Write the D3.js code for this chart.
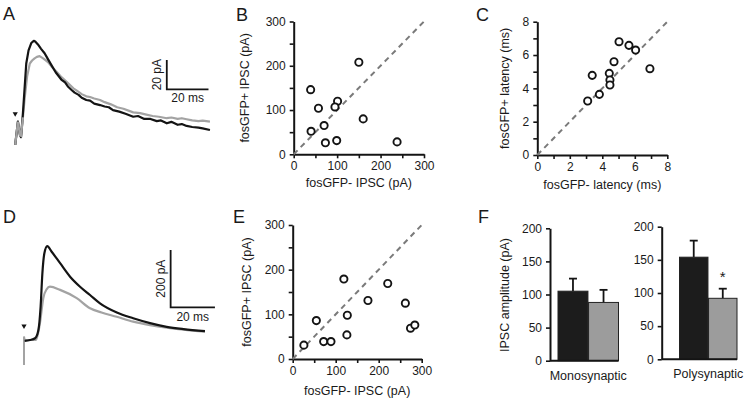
<!DOCTYPE html>
<html><head><meta charset="utf-8">
<script src="https://cdn.jsdelivr.net/npm/d3@7"></script>
<style>
html,body{margin:0;padding:0;background:#fff;}
svg{display:block;font-family:"Liberation Sans",Arial,sans-serif;}
</style></head>
<body><svg id="c" width="755" height="402"></svg>
<script>
// ---------- DATA ----------
// Panel A traces: [time ms, current pA]
const aBlack = [[0.1,-6.8],[1.4,9.1],[2.4,0],[2.9,-1.5],[3.8,15],[4.6,32],[5.4,49],[6.5,58],[7.8,63],[9.0,64.5],[9.7,64],[11,62],[12.5,59],[14.2,56],[15.8,52],[17.4,48],[19.5,43],[22.2,38],[24,36],[25.5,33],[27,31],[28.6,29],[30.5,27.5],[32,25.5],[34.2,24],[36,23.5],[38,21.5],[40.8,20.5],[43,19.5],[45,19],[47,17],[50,16],[53,14.5],[56.7,12.5],[59,13],[62,11],[65,11],[68,9.5],[70,10],[72.8,8],[75,9],[78,7],[80,7.5],[82.3,6.2],[85,5.5],[88,5],[90,4.5],[93.5,3.4]];
const aGray = [[0.1,-6.8],[1.4,9.1],[2.4,0],[2.9,-0.5],[3.8,12],[4.7,26],[5.8,40],[7.1,49],[8.2,51],[9.4,52.5],[10.5,53.5],[11.8,54],[13.5,52.5],[15.8,50],[17.5,47],[19.8,43.5],[22,40],[25.4,35.5],[28,32],[30,30],[32,28],[34.2,26.5],[36,26],[38,25],[40.8,24],[43,22.5],[46,21],[49,19],[52,18],[56.7,15.5],[60,15],[63,14],[66,13],[69,12.5],[72.8,11.5],[75,12],[78,11],[80,11.5],[82.3,10.8],[85,10],[88,9.5],[90,9.8],[93.5,9.1]];
// Panel D traces: [time ms, current pA]
const dBlack = [[0.3,-3],[2.7,0],[5.0,6],[6.5,35],[7.5,116],[8.3,233],[9.2,303],[10.5,328],[12.5,308],[16.3,268],[20.8,221],[25.3,186],[29.8,157],[34.3,128],[41.9,96],[49.3,76],[56.9,59],[64.4,46],[72,38],[81.7,31]];
const dGray = [[0.3,0],[1.2,0],[5.4,0],[7.2,59],[8.7,146],[10.2,177],[11.7,186],[16.3,175],[23.8,146],[29.8,111],[35,96],[41.9,81],[49.3,64],[56.9,52],[64.4,43],[72,36],[81.7,29]];
const dArtifact = [[0,-87],[0,12],[0.3,0]];
// Panel B: IPSC amplitudes (pA)
const bNeg = [150,39,57,101,95,160,70,40,73,99,238];
const bPos = [208,146,104,120,107,80,65,52,26,31,28];
// Panel C: latencies (ms)
const cNeg = [5.03,5.64,6.05,4.72,6.93,3.38,4.43,4.47,4.47,3.82,3.1];
const cPos = [6.8,6.58,6.3,5.6,5.18,4.78,4.9,4.5,4.2,3.64,3.24];
// Panel E: IPSC amplitudes (pA)
const eNeg = [119,221,175,262,127,55,126,274,284,72,89,26];
const ePos = [179,169,131,125,98,86,54,69,76,39,39,31];
// Panel F: mean IPSC amplitude (pA) and SEM
const fCategories = ["Monosynaptic","Polysynaptic"];
const fNegMean = [105,154];
const fNegSem = [19,25];
const fPosMean = [88,92];
const fPosSem = [19,14.5];
const ampTicks = [0,100,200,300];
const latTicks = [0,2,4,6,8];
const fTicks = [0,50,100,150,200];

// ---------- DRAW ----------
const svg = d3.select("#c");
svg.append("rect").attr("width",755).attr("height",402).attr("fill","#fff");
const BLACK = "#141414", GRAY = "#a3a3a3", TXT = "#1a1a1a";

function panelLetter(t,x,y){
  svg.append("text").attr("x",x).attr("y",y).attr("font-size",18).attr("fill",TXT).text(t);
}
panelLetter("A",3,19.5); panelLetter("B",236,20.5); panelLetter("C",476,20.5);
panelLetter("D",3,223); panelLetter("E",233,223); panelLetter("F",478,223);

function styleAxis(g){
  g.select(".domain").attr("stroke",BLACK).attr("stroke-width",2);
  g.selectAll(".tick line").attr("stroke",BLACK).attr("stroke-width",1.6);
  g.selectAll(".tick text").attr("font-size",12).attr("fill",TXT).attr("font-family","Liberation Sans, Arial, sans-serif");
}

function scatter(opts){
  const {xd, yd, xr, yr, allTicks, labTicks, xs, ys, xTitle, yTitle, fmt, xTitleY, yTitleX} = opts;
  const x = d3.scaleLinear().domain(xd).range(xr);
  const y = d3.scaleLinear().domain(yd).range(yr);
  const lab = new Set(labTicks);
  const gx = svg.append("g").attr("transform",`translate(0,${yr[0]})`)
    .call(d3.axisBottom(x).tickValues(allTicks).tickSize(4).tickSizeOuter(0).tickPadding(3)
      .tickFormat(d=>lab.has(d)?fmt(d):""));
  styleAxis(gx);
  const gy = svg.append("g").attr("transform",`translate(${xr[0]},0)`)
    .call(d3.axisLeft(y).tickValues(allTicks).tickSize(4).tickSizeOuter(0).tickPadding(4)
      .tickFormat(d=>lab.has(d)?fmt(d):""));
  styleAxis(gy);
  // identity line
  svg.append("line").attr("x1",x(xd[0])).attr("y1",y(yd[0])).attr("x2",x(xd[1])).attr("y2",y(yd[1]))
    .attr("stroke","#7a7a7a").attr("stroke-width",2).attr("stroke-dasharray","5.5,4.5");
  svg.append("g").selectAll("circle").data(xs.map((v,i)=>[v,ys[i]])).join("circle")
    .attr("cx",d=>x(d[0])).attr("cy",d=>y(d[1])).attr("r",3.6)
    .attr("fill","#fff").attr("stroke",BLACK).attr("stroke-width",1.9);
  svg.append("text").attr("x",(xr[0]+xr[1])/2).attr("y",xTitleY).attr("text-anchor","middle")
    .attr("font-size",12.5).attr("fill",TXT).text(xTitle);
  svg.append("text").attr("transform",`translate(${yTitleX},${(yr[0]+yr[1])/2}) rotate(-90)`)
    .attr("text-anchor","middle").attr("font-size",12.5).attr("fill",TXT).text(yTitle);
}

scatter({xd:[0,300], yd:[0,300], xr:[293.7,424], yr:[154.3,21.5], allTicks:d3.range(0,301,50), labTicks:ampTicks,
  xs:bNeg, ys:bPos, xTitle:"fosGFP- IPSC (pA)", yTitle:"fosGFP+ IPSC (pA)", fmt:d=>d, xTitleY:186.5, yTitleX:249});
scatter({xd:[0,8], yd:[0,8], xr:[537.3,667.3], yr:[155,21.7], allTicks:d3.range(0,9,1), labTicks:latTicks,
  xs:cNeg, ys:cPos, xTitle:"fosGFP- latency (ms)", yTitle:"fosGFP+ latency (ms)", fmt:d=>d, xTitleY:189, yTitleX:509});
scatter({xd:[0,300], yd:[0,300], xr:[292.7,421.7], yr:[359,225], allTicks:d3.range(0,301,50), labTicks:ampTicks,
  xs:eNeg, ys:ePos, xTitle:"fosGFP- IPSC (pA)", yTitle:"fosGFP+ IPSC (pA)", fmt:d=>d, xTitleY:394.5, yTitleX:251});

// ---------- Traces ----------
function traces(opts){
  const {x, y, black, gray, artifact, arrow, barT, barI, barLenT, barLenI, tLab, iLab, iLabX, tLabY, curve} = opts;
  const line = d3.line().x(d=>x(d[0])).y(d=>y(d[1])).curve(curve);
  svg.append("path").attr("d",line(gray)).attr("fill","none").attr("stroke",GRAY).attr("stroke-width",2.2).attr("stroke-linejoin","round");
  if(artifact) svg.append("path").attr("d",d3.line().x(d=>x(d[0])).y(d=>y(d[1]))(artifact))
    .attr("fill","none").attr("stroke",GRAY).attr("stroke-width",2);
  svg.append("path").attr("d",line(black)).attr("fill","none").attr("stroke",BLACK).attr("stroke-width",2.2).attr("stroke-linejoin","round");
  if(opts.grayOnTopStart){
    svg.append("path").attr("d",line(gray.slice(0,opts.grayOnTopStart))).attr("fill","none").attr("stroke",GRAY).attr("stroke-width",2.2);
  }
  // stimulus arrow
  const ax = x(arrow[0]), ay = y(arrow[1]);
  svg.append("path").attr("d",`M${ax-2.6},${ay-4.5}L${ax+2.6},${ay-4.5}L${ax},${ay}Z`).attr("fill",BLACK);
  // scale bars
  const bx = x(barT), by = y(barI);
  svg.append("path").attr("d",`M${bx},${y(barI+barLenI)}L${bx},${by}L${x(barT+barLenT)},${by}`)
    .attr("fill","none").attr("stroke",BLACK).attr("stroke-width",1.8);
  svg.append("text").attr("transform",`translate(${iLabX},${(y(barI+barLenI)+by)/2}) rotate(-90)`)
    .attr("text-anchor","middle").attr("font-size",12).attr("fill",TXT).text(iLab);
  svg.append("text").attr("x",(bx+x(barT+barLenT))/2).attr("y",tLabY).attr("text-anchor","middle")
    .attr("font-size",12).attr("fill",TXT).text(tLab);
}

const xA = d3.scaleLinear().domain([0,100]).range([15,223.5]);
const yA = d3.scaleLinear().domain([0,20]).range([135,105.8]);
traces({x:xA, y:yA, black:aBlack, gray:aGray, arrow:[0.1,12.5], barT:72.8, barI:31.3, barLenT:20, barLenI:20,
  tLab:"20 ms", iLab:"20 pA", iLabX:161, tLabY:101.5, curve:d3.curveLinear, grayOnTopStart:5});

const xD = d3.scaleLinear().domain([0,100]).range([24,245.5]);
const yD = d3.scaleLinear().domain([0,200]).range([340,282.7]);
traces({x:xD, y:yD, black:dBlack, gray:dGray, artifact:dArtifact, arrow:[0,38], barT:66.2, barI:114, barLenT:20, barLenI:200,
  tLab:"20 ms", iLab:"200 pA", iLabX:165, tLabY:320.5, curve:d3.curveMonotoneX});

// ---------- Panel F ----------
function barPlot(i, axisX, yr, band, xEnd){
  const y = d3.scaleLinear().domain([0,200]).range(yr);
  const b = d3.scaleBand().domain(["neg","pos"]).range(band).paddingInner(0.02);
  const vals = [{k:"neg",m:fNegMean[i],s:fNegSem[i],c:"#1c1c1c"},{k:"pos",m:fPosMean[i],s:fPosSem[i],c:"#9c9c9c"}];
  // error bars (up only)
  vals.forEach(v=>{
    const cx = b(v.k)+b.bandwidth()/2;
    svg.append("line").attr("x1",cx).attr("x2",cx).attr("y1",y(v.m)).attr("y2",y(v.m+v.s)).attr("stroke",BLACK).attr("stroke-width",1.8);
    svg.append("line").attr("x1",cx-4).attr("x2",cx+4).attr("y1",y(v.m+v.s)).attr("y2",y(v.m+v.s)).attr("stroke",BLACK).attr("stroke-width",1.8);
  });
  svg.append("g").selectAll("rect").data(vals).join("rect")
    .attr("x",d=>b(d.k)).attr("width",b.bandwidth()).attr("y",d=>y(d.m)).attr("height",d=>y(0)-y(d.m))
    .attr("fill",d=>d.c).attr("stroke","#222").attr("stroke-width",1);
  const gy = svg.append("g").attr("transform",`translate(${axisX},0)`)
    .call(d3.axisLeft(y).tickValues(fTicks).tickSize(4).tickSizeOuter(0).tickPadding(4));
  styleAxis(gy);
  svg.append("line").attr("x1",axisX).attr("x2",xEnd).attr("y1",y(0)).attr("y2",y(0)).attr("stroke",BLACK).attr("stroke-width",2);
  svg.append("text").attr("x",(band[0]+band[1])/2).attr("y",yr[0]+19).attr("text-anchor","middle")
    .attr("font-size",12.5).attr("fill",TXT).text(fCategories[i]);
  return {y,b};
}
barPlot(0, 550, [360.7,228.3], [558,618.5], 618.5);
const pr = barPlot(1, 661.7, [359.3,226.7], [679.5,737], 737);
// significance star above gray polysynaptic bar
svg.append("text").attr("x",pr.b("pos")+pr.b.bandwidth()/2).attr("y",pr.y(fPosMean[1]+fPosSem[1])-7)
  .attr("text-anchor","middle").attr("font-size",15).attr("fill",TXT).text("*");
svg.append("text").attr("transform",`translate(509,295) rotate(-90)`).attr("text-anchor","middle")
  .attr("font-size",12.5).attr("fill",TXT).text("IPSC amplitude (pA)");
</script></body></html>
